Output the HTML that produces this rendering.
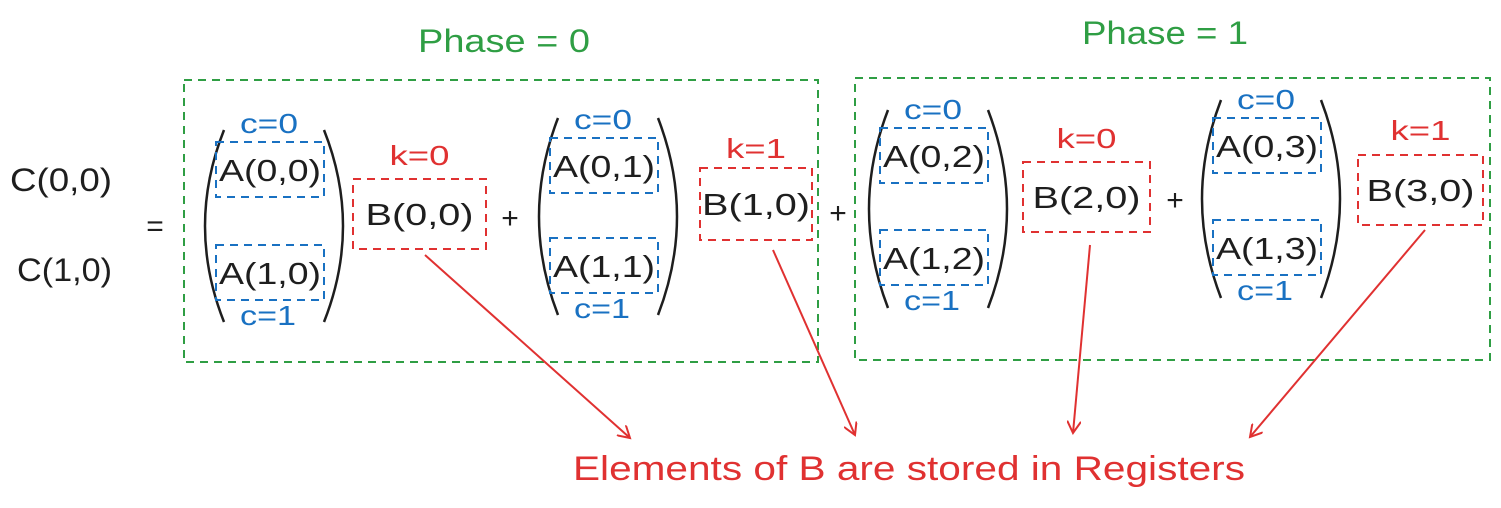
<!DOCTYPE html>
<html><head><meta charset="utf-8"><style>
html,body{margin:0;padding:0;background:#fff;}
svg text{font-family:"Liberation Sans",sans-serif;}
</style></head><body>
<svg width="1501" height="503" viewBox="0 0 1501 503" xmlns="http://www.w3.org/2000/svg">
<defs>
<marker id="ah" markerWidth="14" markerHeight="14" refX="12" refY="7" orient="auto" markerUnits="userSpaceOnUse">
<path d="M0,0 L12,7 L0,14" fill="none" stroke="#e03131" stroke-width="2"/></marker>
</defs>
<g fill="none" stroke-dasharray="8 6" stroke-width="2">
<rect x="184" y="80" width="634" height="282" stroke="#2f9e44"/>
<rect x="855" y="78" width="635" height="282" stroke="#2f9e44"/>
</g>
<text x="418" y="52" font-size="32" fill="#2f9e44" textLength="172" lengthAdjust="spacingAndGlyphs">Phase = 0</text>
<text x="1082" y="44" font-size="32" fill="#2f9e44" textLength="166" lengthAdjust="spacingAndGlyphs">Phase = 1</text>
<text x="10" y="191" font-size="32" fill="#1e1e1e" textLength="102" lengthAdjust="spacingAndGlyphs">C(0,0)</text>
<text x="17" y="281" font-size="32" fill="#1e1e1e" textLength="95" lengthAdjust="spacingAndGlyphs">C(1,0)</text>
<text x="155" y="236" font-size="30" fill="#1e1e1e" text-anchor="middle">=</text>
<g id="groups"></g>
<text x="510" y="228" font-size="30" fill="#1e1e1e" text-anchor="middle">+</text>
<text x="838" y="223" font-size="30" fill="#1e1e1e" text-anchor="middle">+</text>
<text x="1175" y="210" font-size="30" fill="#1e1e1e" text-anchor="middle">+</text>
<g stroke="#e03131" stroke-width="2" fill="none">
<line x1="425" y1="255" x2="630" y2="438" marker-end="url(#ah)"/>
<line x1="773" y1="250" x2="855" y2="435" marker-end="url(#ah)"/>
<line x1="1090" y1="245" x2="1073" y2="433" marker-end="url(#ah)"/>
<line x1="1425" y1="230" x2="1250" y2="437" marker-end="url(#ah)"/>
</g>
<text x="573" y="480" font-size="34" fill="#e03131" textLength="672" lengthAdjust="spacingAndGlyphs">Elements of B are stored in Registers</text>
</svg>
<script>
const groups=[
 {x:216,y0:142,y1:245,top:130,bot:322,bx:353,by:179,bw:133,bh:70,k:"k=0",ky:165,col:0,b:"B(0,0)"},
 {x:550,y0:138,y1:238,top:118,bot:315,bx:700,by:168,bw:112,bh:72,k:"k=1",ky:158,col:1,b:"B(1,0)"},
 {x:880,y0:128,y1:230,top:110,bot:308,bx:1023,by:162,bw:127,bh:70,k:"k=0",ky:148,col:2,b:"B(2,0)"},
 {x:1213,y0:118,y1:220,top:100,bot:298,bx:1358,by:155,bw:125,bh:70,k:"k=1",ky:140,col:3,b:"B(3,0)"}
];
const ns="http://www.w3.org/2000/svg";
const g=document.getElementById('groups');
function mk(tag,attrs,txt){const e=document.createElementNS(ns,tag);for(const k in attrs)e.setAttribute(k,attrs[k]);if(txt)e.textContent=txt;g.appendChild(e);return e;}
groups.forEach((d,i)=>{
 const w=108,h=55,mid=(d.top+d.bot)/2;
 let e=mk('path',{d:`M${d.x+8},${d.top} Q${d.x-30},${mid} ${d.x+8},${d.bot}`,fill:'none',stroke:'#1e1e1e','stroke-width':2.5});
 
 e=mk('path',{d:`M${d.x+w},${d.top} Q${d.x+w+38},${mid} ${d.x+w},${d.bot}`,fill:'none',stroke:'#1e1e1e','stroke-width':2.5});
 
 [[d.y0,0],[d.y1,1]].forEach(([y,r])=>{
  e=mk('rect',{x:d.x,y:y,width:w,height:h,fill:'none',stroke:'#1971c2','stroke-width':2,'stroke-dasharray':'8 6'});
  
  e=mk('text',{x:d.x+3,y:y+39,'font-size':31,fill:'#1e1e1e',textLength:102,lengthAdjust:'spacingAndGlyphs'},`A(${r},${d.col})`);
  
 });
 e=mk('text',{x:d.x+w/2-30,y:d.y0-9,'font-size':28,fill:'#1971c2',textLength:58,lengthAdjust:'spacingAndGlyphs'},'c=0');
 
 e=mk('text',{x:d.x+w/2-30,y:d.y1+h+25,'font-size':28,fill:'#1971c2',textLength:56,lengthAdjust:'spacingAndGlyphs'},'c=1');
 
 e=mk('rect',{x:d.bx,y:d.by,width:d.bw,height:d.bh,fill:'none',stroke:'#e03131','stroke-width':2,'stroke-dasharray':'8 6'});
 
 e=mk('text',{x:d.bx+d.bw/2-54,y:d.by+d.bh/2+11,'font-size':31,fill:'#1e1e1e',textLength:108,lengthAdjust:'spacingAndGlyphs'},d.b);
 
 e=mk('text',{x:d.bx+d.bw/2-30,y:d.ky,'font-size':28,fill:'#e03131',textLength:60,lengthAdjust:'spacingAndGlyphs'},d.k);
 
});
</script>
</body></html>
